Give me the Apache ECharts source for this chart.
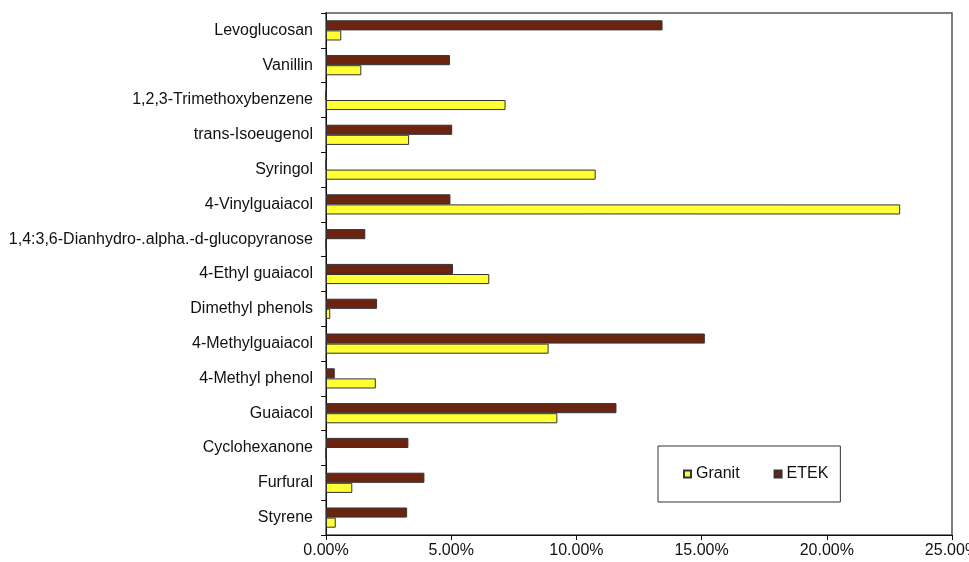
<!DOCTYPE html>
<html>
<head>
<meta charset="utf-8">
<style>
  html, body { margin: 0; padding: 0; background: #fff; }
  #chart { width: 969px; height: 562px; }
</style>
<script src="https://cdn.jsdelivr.net/npm/echarts@6/dist/echarts.min.js"></script>
</head>
<body>
<div id="chart"></div>
<script>
// Compounds, listed top to bottom
const categories = [
  'Levoglucosan',
  'Vanillin',
  '1,2,3-Trimethoxybenzene',
  'trans-Isoeugenol',
  'Syringol',
  '4-Vinylguaiacol',
  '1,4:3,6-Dianhydro-.alpha.-d-glucopyranose',
  '4-Ethyl guaiacol',
  'Dimethyl phenols',
  '4-Methylguaiacol',
  '4-Methyl phenol',
  'Guaiacol',
  'Cyclohexanone',
  'Furfural',
  'Styrene'
];

// Relative area (%) per compound
const etek   = [13.44, 4.95, 0, 5.04, 0, 4.97, 1.57, 5.07, 2.04, 15.13, 0.35, 11.60, 3.29, 3.93, 3.24];
const granit = [0.61, 1.41, 7.17, 3.32, 10.77, 22.93, 0, 6.52, 0.17, 8.89, 1.99, 9.24, 0, 1.05, 0.39];

const xTicks = { min: 0, max: 25, step: 5 };

const font = 'Liberation Sans, Arial, sans-serif';
const chart = echarts.init(document.getElementById('chart'));

chart.setOption({
  animation: false,
  backgroundColor: '#ffffff',
  grid: {
    left: 326, right: 17, top: 13, bottom: 27,
    show: true,
    borderColor: '#555',
    borderWidth: 1.5,
    containLabel: false,
    outerBoundsMode: 'none'
  },
  legend: {
    data: ['Granit', 'ETEK'],
    left: 658,
    top: 446,
    orient: 'horizontal',
    icon: 'rect',
    itemWidth: 7,
    itemHeight: 7,
    itemGap: 34,
    padding: [20, 12, 20, 25],
    borderColor: '#333',
    borderWidth: 1,
    textStyle: { fontFamily: font, fontSize: 16, color: '#111' }
  },
  xAxis: {
    type: 'value',
    min: xTicks.min,
    max: xTicks.max,
    interval: xTicks.step,
    splitLine: { show: false },
    axisLine: { show: true, lineStyle: { color: '#111', width: 1 } },
    axisTick: { show: true, length: 5, lineStyle: { color: '#111' } },
    axisLabel: {
      margin: 8,
      fontFamily: font,
      fontSize: 16,
      color: '#111',
      formatter: v => v.toFixed(2) + '%'
    }
  },
  yAxis: {
    type: 'category',
    data: categories,
    inverse: true,
    axisLine: { show: true, lineStyle: { color: '#111', width: 1 } },
    axisTick: { show: true, length: 5, lineStyle: { color: '#111' } },
    axisLabel: {
      margin: 13,
      fontFamily: font,
      fontSize: 16,
      color: '#111'
    }
  },
  series: [
    {
      name: 'ETEK',
      type: 'bar',
      data: etek,
      barGap: '0%',
      barCategoryGap: '42%',
      itemStyle: { color: '#6b2410', borderColor: '#333', borderWidth: 1 }
    },
    {
      name: 'Granit',
      type: 'bar',
      data: granit,
      barGap: '0%',
      barCategoryGap: '42%',
      itemStyle: { color: '#ffff33', borderColor: '#333', borderWidth: 1 }
    }
  ]
});
</script>
</body>
</html>
